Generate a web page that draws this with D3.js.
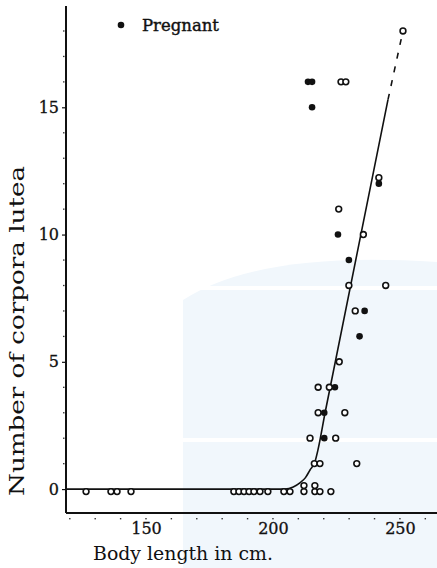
<!DOCTYPE html>
<html>
<head>
<meta charset="utf-8">
<script src="https://cdn.jsdelivr.net/npm/d3@7"></script>
<style>
  html, body { margin: 0; padding: 0; background: #fff; }
  svg { display: block; }
  text { font-family: "DejaVu Serif", "Liberation Serif", serif; fill: #111; }
</style>
</head>
<body>
<svg id="chart" width="437" height="568"></svg>
<script>
// Body length (cm) and number of corpora lutea per female
const pregLength = [213.8, 215.4, 215.4, 241.7, 225.6, 229.9, 236.1, 234.1, 224.4, 220.2, 220.2];
const pregCL     = [16, 16, 15, 12, 10, 9, 7, 6, 4, 3, 2];

const openLength = [251.2, 226.8, 228.7, 241.7, 225.9, 235.6, 229.9, 244.4, 232.4, 226.1,
                    217.8, 222.2, 217.8, 228.3, 214.6, 224.7, 216.3, 218.5, 233.0];
const openCL     = [18, 16, 16, 12, 11, 10, 8, 8, 7, 5, 4, 4, 3, 3, 2, 2, 1, 1, 1];

// Females with no corpora lutea
const zeroLength = [126.4, 136.2, 138.6, 144.1, 184.6, 186.6, 188.6, 190.6, 192.5, 194.9,
                    198.0, 204.3, 206.7, 212.2, 212.2, 216.5, 216.5, 218.5, 222.8];

// Fitted curve (solid) and its extrapolation (dashed)
const fitLength = [118.5, 204.7, 208.0, 210.6, 212.8, 214.6, 216.5, 217.7, 220.5, 245.3];
const fitCL     = [0, 0, 0.08, 0.24, 0.45, 0.75, 1.06, 1.53, 2.99, 15.3];
const extLength = [245.3, 251.2];
const extCL     = [15.3, 18.0];

const xTicks = [150, 200, 250];
const yTicks = [0, 5, 10, 15];
const xMinor = d3.range(120, 261, 10);
const yMinor = d3.range(1, 19, 1);

const svg = d3.select("#chart");
const plotLeft = 66, plotRight = 437, plotTop = 6, plotBottom = 513;

const x = d3.scaleLinear().domain([118.5, 264.6]).range([plotLeft, plotRight]);
const y = d3.scaleLinear().domain([-0.94, 18.98]).range([plotBottom, plotTop]);

// faint background wash
const wash = svg.append("g").attr("fill", "#f1f7fc");
wash.append("path").attr("d", "M183,568 L183,300 Q260,250 437,262 L437,568 Z");
wash.append("rect").attr("x", 183).attr("y", 286).attr("width", 254).attr("height", 4).attr("fill", "#fff");
wash.append("rect").attr("x", 183).attr("y", 438).attr("width", 254).attr("height", 4).attr("fill", "#fff");

// axis lines
svg.append("line").attr("x1", plotLeft).attr("x2", plotLeft).attr("y1", plotTop).attr("y2", plotBottom)
  .attr("stroke", "#111").attr("stroke-width", 2);
svg.append("line").attr("x1", plotLeft).attr("x2", plotRight).attr("y1", plotBottom).attr("y2", plotBottom)
  .attr("stroke", "#111").attr("stroke-width", 2);

// y axis: major ticks and labels
const yAxis = d3.axisLeft(y).tickValues(yTicks).tickSize(4).tickPadding(3).tickFormat(d3.format("d"));
const gy = svg.append("g").attr("transform", `translate(${plotLeft},0)`).call(yAxis);
gy.select(".domain").remove();
gy.selectAll("line").attr("stroke", "#111").attr("stroke-width", 1.2);
gy.selectAll("text").style("font-size", "16px").style("font-family", "DejaVu Serif, serif")
  .attr("fill", "#111").attr("stroke", "#111").attr("stroke-width", 0.3);

// y minor dots
svg.append("g").selectAll("rect").data(yMinor.filter(d => !yTicks.includes(d))).join("rect")
  .attr("x", plotLeft - 3).attr("y", d => y(d) - 0.6).attr("width", 1.5).attr("height", 1.3).attr("fill", "#333");

// x axis: labels and minor dots
const xAxis = d3.axisBottom(x).tickValues(xTicks).tickSize(0).tickPadding(10).tickFormat(d3.format("d"));
const gx = svg.append("g").attr("transform", `translate(0,${plotBottom})`).call(xAxis);
gx.select(".domain").remove();
gx.selectAll("text").style("font-size", "16px").style("font-family", "DejaVu Serif, serif")
  .attr("fill", "#111").attr("stroke", "#111").attr("stroke-width", 0.3);

svg.append("g").selectAll("rect").data(xMinor).join("rect")
  .attr("x", d => x(d) - 0.7).attr("y", plotBottom + 5).attr("width", 1.4).attr("height", 1.4).attr("fill", "#333");

// axis titles
svg.append("text").attr("x", 93).attr("y", 560).attr("textLength", 180).attr("lengthAdjust", "spacingAndGlyphs")
  .style("font-size", "19px").text("Body length in cm.");
svg.append("text").attr("transform", "translate(24,331) rotate(-90)").attr("text-anchor", "middle")
  .attr("textLength", 330).attr("lengthAdjust", "spacingAndGlyphs")
  .style("font-size", "20px").text("Number of corpora lutea");

// fitted curve
const line = d3.line().x(d => x(d[0])).y(d => y(d[1])).curve(d3.curveMonotoneX);
svg.append("path").datum(d3.zip(fitLength, fitCL)).attr("d", line)
  .attr("fill", "none").attr("stroke", "#111").attr("stroke-width", 1.6);
svg.append("path").datum(d3.zip(extLength, extCL)).attr("d", d3.line().x(d => x(d[0])).y(d => y(d[1])))
  .attr("fill", "none").attr("stroke", "#111").attr("stroke-width", 1.6).attr("stroke-dasharray", "6,8");

// points; coincident points are stacked upward
const seen = new Map();
function place(len, cl) {
  const key = len + "|" + cl;
  const k = seen.get(key) || 0;
  seen.set(key, k + 1);
  return [x(len), y(cl) + (cl === 0 ? 2.5 : 0) - k * 6];
}
const filled = pregLength.map((l, i) => place(l, pregCL[i]));
const open = openLength.map((l, i) => place(l, openCL[i]))
  .concat(zeroLength.map(l => place(l, 0)));

svg.append("g").selectAll("circle").data(filled).join("circle")
  .attr("cx", d => d[0]).attr("cy", d => d[1]).attr("r", 3.3).attr("fill", "#111");
svg.append("g").selectAll("circle").data(open).join("circle")
  .attr("cx", d => d[0]).attr("cy", d => d[1]).attr("r", 2.9)
  .attr("fill", "#fff").attr("stroke", "#111").attr("stroke-width", 1.6);

// legend
svg.append("circle").attr("cx", 121).attr("cy", 25).attr("r", 3.3).attr("fill", "#111");
svg.append("text").attr("x", 142).attr("y", 31).attr("textLength", 77).attr("lengthAdjust", "spacingAndGlyphs")
  .style("font-size", "16px").attr("stroke", "#111").attr("stroke-width", 0.4).text("Pregnant");
</script>
</body>
</html>
